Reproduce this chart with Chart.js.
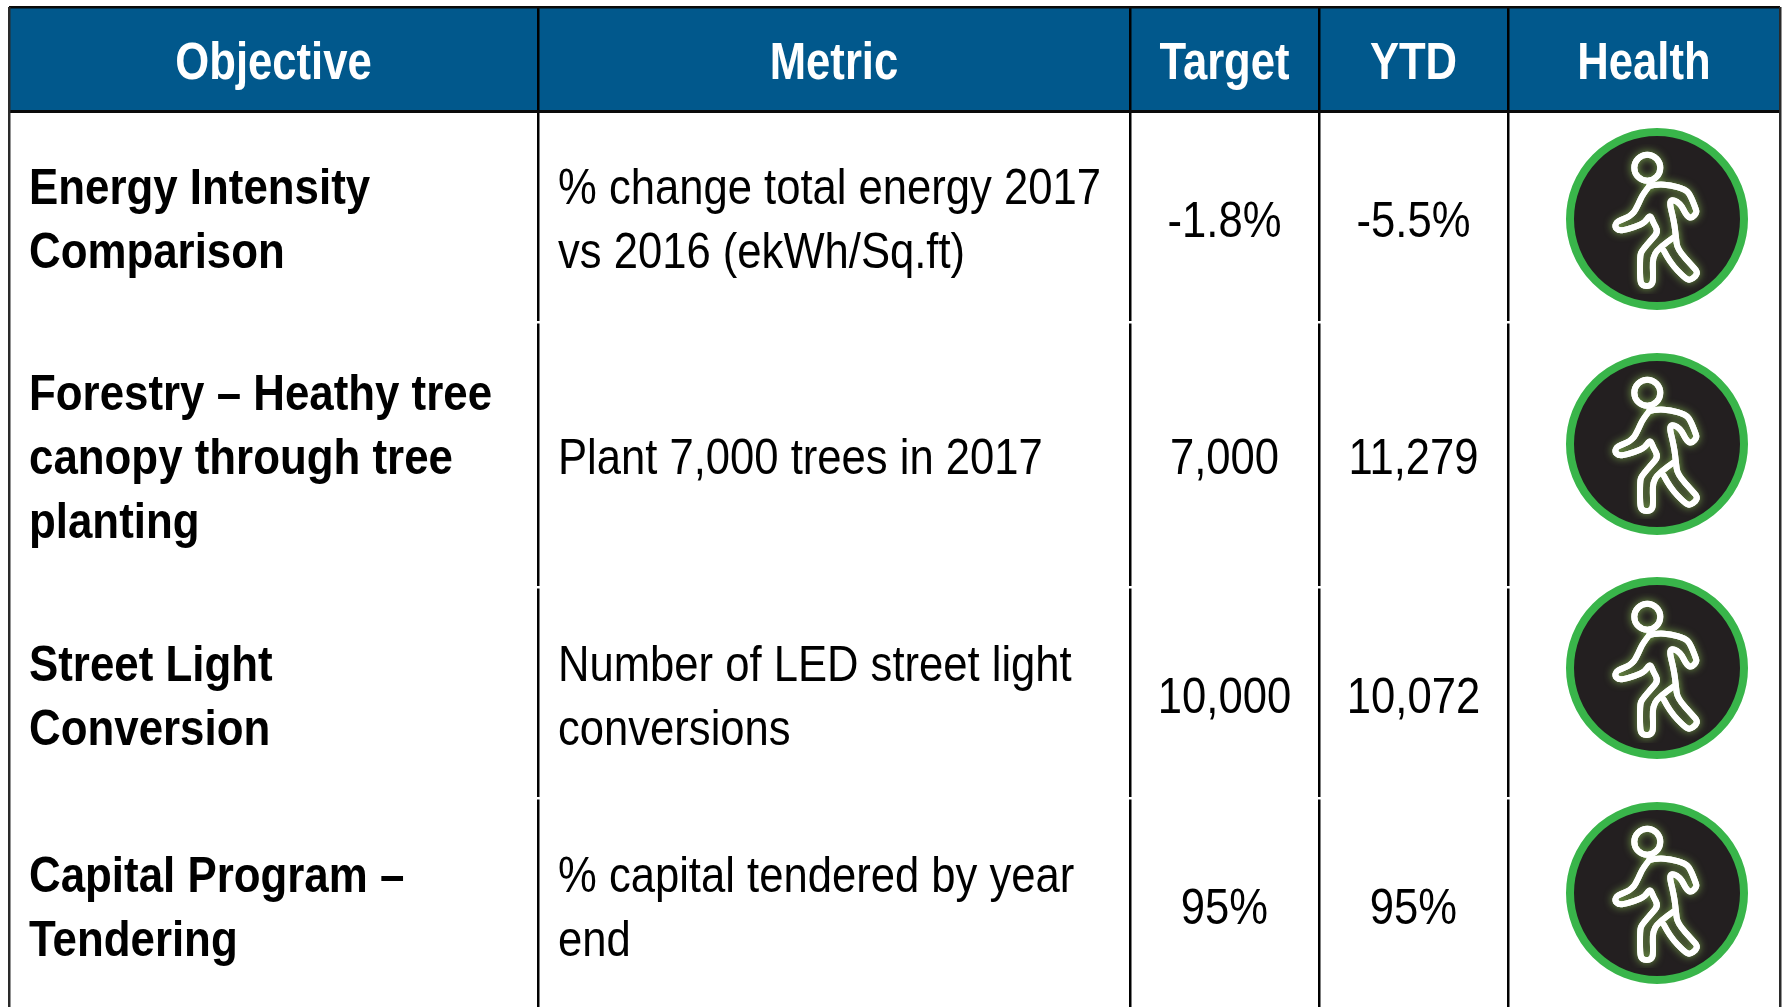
<!DOCTYPE html>
<html>
<head>
<meta charset="utf-8">
<title>Objectives</title>
<script src="https://cdn.jsdelivr.net/npm/chart.js@4"></script>
<style>
  html, body { margin: 0; padding: 0; background: #fff; overflow: hidden; }
  canvas { display: block; }
</style>
</head>
<body>
<canvas id="scorecard" width="1785" height="1007"></canvas>
<script>
// table content
const headers = ['Objective', 'Metric', 'Target', 'YTD', 'Health'];
const objectives = [
  ['Energy Intensity', 'Comparison'],
  ['Forestry \u2013 Heathy tree', 'canopy through tree', 'planting'],
  ['Street Light', 'Conversion'],
  ['Capital Program \u2013', 'Tendering']
];
const metrics = [
  ['% change total energy 2017', 'vs 2016 (ekWh/Sq.ft)'],
  ['Plant 7,000 trees in 2017'],
  ['Number of LED street light', 'conversions'],
  ['% capital tendered by year', 'end']
];
const targets = ['-1.8%', '7,000', '10,000', '95%'];
const ytd = ['-5.5%', '11,279', '10,072', '95%'];

// layout, axis units are the page pixels
const colEdges = [9, 538, 1130, 1319, 1508, 1780];
const rowEdges = [7, 111, 322, 587, 798, 1007];
const rowMid = [236, 474, 713, 924];
const singleMid = [237, 474, 713, 924];
const iconRows = [219, 444, 668, 893];
const iconX = 1657;
const headerMid = 79;
const lineGap = 64;
// the source text is narrow
const headSqueeze = 0.855;
const boldSqueeze = 0.877;
const bodySqueeze = 0.872;

function walker() {
  // little walking man used as point image
  const c = document.createElement('canvas');
  c.width = 150;
  c.height = 150;
  const g = c.getContext('2d');
  g.translate(75, 75);
  g.strokeStyle = '#fff';
  g.lineWidth = 6;
  g.lineJoin = 'round';
  g.lineCap = 'round';
  const front = [
    [178,135],[158,160],[145,190],[128,222],[90,238],[78,245],[75,258],[85,268],[100,268],
    [135,258],[165,245],[180,220],[190,245],[205,272],[185,295],[155,330],[150,345],[150,415],
    [155,432],[170,436],[185,432],[190,415],[187,345],[215,315],[250,290]
  ];
  const back = [
    [222,330],[240,365],[285,412],[300,418],[318,405],[322,392],[310,378],[262,325],[258,290],
    [252,240],[235,172],[270,185],[290,225],[305,232],[320,215],[318,205],[300,160],[285,145],
    [240,132],[205,130],[178,135]
  ];
  const px = (p) => [(p[0] - 201) / 3, (p[1] - 234) / 3];
  // first pass gives the glow, second one the clean white line
  for (let pass = 0; pass < 2; pass++) {
    g.shadowColor = pass === 0 ? 'rgba(150,210,90,0.8)' : 'transparent';
    g.shadowBlur = pass === 0 ? 8 : 0;
    for (const path of [front, back]) {
      const pts = path.map(px);
      g.beginPath();
      g.moveTo(pts[0][0], pts[0][1]);
      for (let i = 1; i < pts.length - 1; i++) {
        g.quadraticCurveTo(pts[i][0], pts[i][1], (pts[i][0] + pts[i + 1][0]) / 2, (pts[i][1] + pts[i + 1][1]) / 2);
      }
      g.lineTo(pts[pts.length - 1][0], pts[pts.length - 1][1]);
      g.stroke();
    }
    g.beginPath();
    g.arc(-9.7, -51.3, 13, 0, Math.PI * 2);
    g.stroke();
  }
  return c;
}

function put(ctx, text, x, y, align, squeeze) {
  ctx.save();
  ctx.translate(x, y);
  ctx.scale(squeeze, 1);
  ctx.textAlign = align;
  ctx.fillText(text, 0, 0);
  ctx.restore();
}

const tableText = {
  id: 'tableText',
  beforeDraw(chart) {
    // header band, goes under the grid lines
    const ctx = chart.ctx, sx = chart.scales.x, sy = chart.scales.y;
    const left = sx.getPixelForValue(colEdges[0]), top = sy.getPixelForValue(rowEdges[0]);
    ctx.save();
    ctx.fillStyle = '#01588c';
    ctx.fillRect(left, top, sx.getPixelForValue(colEdges[5]) - left, sy.getPixelForValue(rowEdges[1]) - top);
    ctx.restore();
  },
  afterDraw(chart) {
    const ctx = chart.ctx, sx = chart.scales.x, sy = chart.scales.y;
    const mid = (i) => sx.getPixelForValue((colEdges[i] + colEdges[i + 1]) / 2);
    ctx.save();
    ctx.textBaseline = 'alphabetic';
    ctx.fillStyle = '#fff';
    ctx.font = 'bold 51px "Liberation Sans"';
    headers.forEach(function(h, i) {
      put(ctx, h, mid(i), sy.getPixelForValue(headerMid), 'center', headSqueeze);
    });
    ctx.fillStyle = '#000';
    rowMid.forEach(function(m, r) {
      ctx.font = 'bold 50px "Liberation Sans"';
      objectives[r].forEach(function(t, i) {
        const off = (i - (objectives[r].length - 1) / 2) * lineGap;
        put(ctx, t, sx.getPixelForValue(29), sy.getPixelForValue(m + off), 'left', boldSqueeze);
      });
      ctx.font = '50px "Liberation Sans"';
      metrics[r].forEach(function(t, i) {
        const base = metrics[r].length === 1 ? singleMid[r] : m;
        const off = (i - (metrics[r].length - 1) / 2) * lineGap;
        put(ctx, t, sx.getPixelForValue(colEdges[1] + 20), sy.getPixelForValue(base + off), 'left', bodySqueeze);
      });
      put(ctx, targets[r], mid(2), sy.getPixelForValue(singleMid[r]), 'center', bodySqueeze);
      put(ctx, ytd[r], mid(3), sy.getPixelForValue(singleMid[r]), 'center', bodySqueeze);
    });
    ctx.restore();
  }
};

function edgeTicks(values) {
  return function(axis) {
    axis.ticks = values.map((v) => ({ value: v }));
  };
}

const hidden = { display: false };

new Chart(document.getElementById('scorecard'), {
  type: 'scatter',
  data: {
    // first dataset is drawn last
    datasets: [
      {
        data: iconRows.map((y) => ({ x: iconX, y: y })),
        pointStyle: walker(),
        pointRadius: 10
      },
      {
        // health lights
        data: iconRows.map((y) => ({ x: iconX, y: y })),
        pointRadius: 87,
        pointBorderWidth: 8,
        pointBackgroundColor: '#231f20',
        pointBorderColor: '#39b54a',
        clip: false
      }
    ]
  },
  options: {
    responsive: false,
    animation: false,
    layout: {
      autoPadding: false,
      padding: { left: colEdges[0], top: rowEdges[0], right: 1785 - colEdges[5], bottom: 0 }
    },
    plugins: { legend: hidden, title: hidden, tooltip: { enabled: false } },
    scales: {
      x: {
        type: 'linear',
        min: colEdges[0],
        max: colEdges[5],
        afterBuildTicks: edgeTicks(colEdges.slice(1, 5)),
        ticks: hidden,
        border: hidden,
        grid: { z: -3, color: '#000', lineWidth: 2.5, drawTicks: false }
      },
      xOuter: {
        type: 'linear',
        position: 'bottom',
        axis: 'x',
        min: colEdges[0],
        max: colEdges[5],
        afterBuildTicks: edgeTicks([colEdges[0], colEdges[5]]),
        ticks: hidden,
        border: hidden,
        grid: { z: -1, color: '#2a2a2a', lineWidth: 2.5, drawTicks: false }
      },
      y: {
        type: 'linear',
        reverse: true,
        min: rowEdges[0],
        max: rowEdges[5],
        afterBuildTicks: edgeTicks(rowEdges.slice(0, 5)),
        ticks: hidden,
        border: hidden,
        grid: {
          z: -2,
          drawTicks: false,
          // rows are only parted by a thin white cut through the column lines
          color: (c) => (c.tick && c.tick.value <= rowEdges[1] ? '#0a0a0a' : '#fff'),
          lineWidth: (c) => (c.tick && c.tick.value === rowEdges[1] ? 3 : 2.5)
        }
      }
    }
  },
  plugins: [tableText]
});
</script>
</body>
</html>
